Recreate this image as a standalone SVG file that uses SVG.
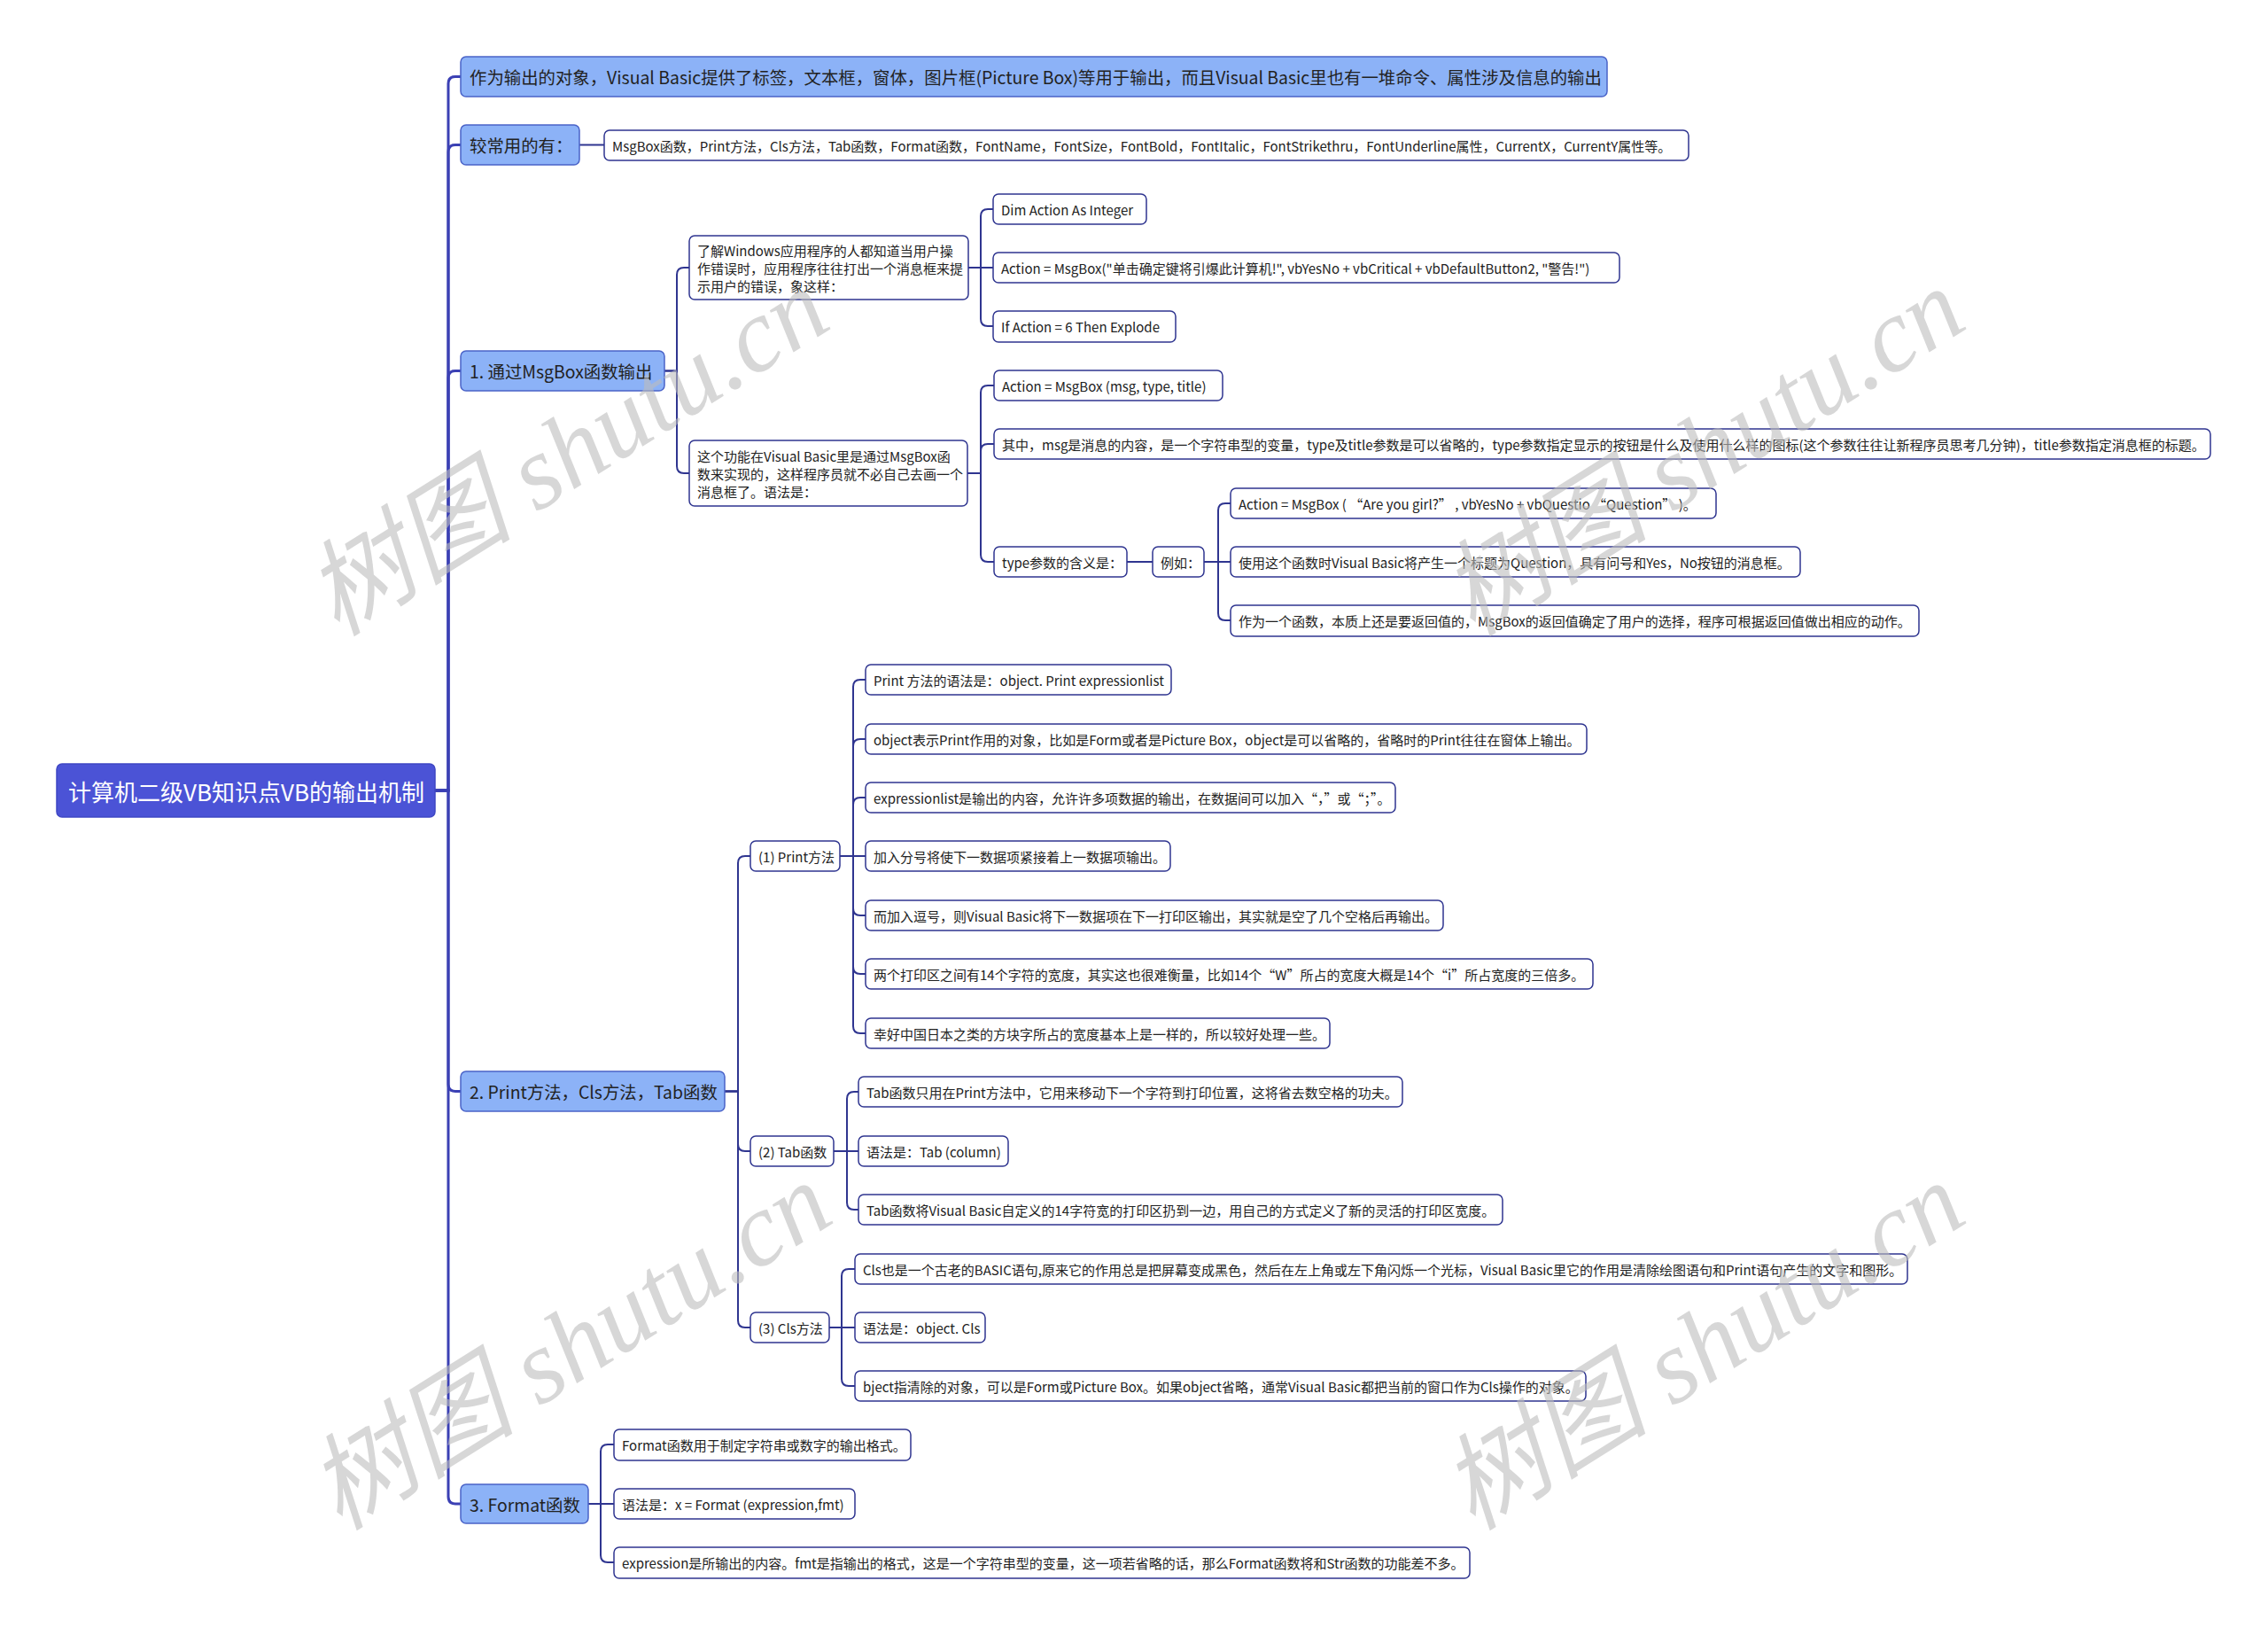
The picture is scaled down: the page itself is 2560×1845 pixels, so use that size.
<svg xmlns="http://www.w3.org/2000/svg" width="2560" height="1845" viewBox="0 0 2560 1845">
<style>
text{font-family:"Noto Sans CJK SC","Noto Sans",sans-serif;fill:#222;dominant-baseline:central}
.root rect{fill:#4B53D6;stroke:#3F47C4;stroke-width:1.5}
.root text{fill:#fff;font-size:26px}
.l1 rect{fill:#8CB2F7;stroke:#4A63C8;stroke-width:1.5}
.l1 text{font-size:19.4px}
.l2 rect{fill:#fff;stroke:#2F3590;stroke-width:1.5}
.l2 text{font-size:15px}
.c0 path{fill:none;stroke:#3B40B4;stroke-width:3}
.c1 path{fill:none;stroke:#2F3590;stroke-width:2}
.wm{font-family:"Liberation Serif","Noto Sans CJK SC",serif;font-style:italic;font-size:118px;fill:#BDBDBD;opacity:0.6;dominant-baseline:alphabetic}
</style>
<rect width="2560" height="1845" fill="#fff"/>
<g id="connectors">
<g class="c0">
<path d="M491,892 H506 V94.5 Q506,86.5 514,86.5 H520"/>
<path d="M491,892 H506 V171.5 Q506,163.5 514,163.5 H520"/>
<path d="M491,892 H506 V426.5 Q506,418.5 514,418.5 H520"/>
<path d="M491,892 H506 V1223.5 Q506,1231.5 514,1231.5 H520"/>
<path d="M491,892 H506 V1689 Q506,1697 514,1697 H520"/>
</g>
<g class="c1">
<path d="M654,163.5 H682"/>
<path d="M750,418.5 H764 V310 Q764,302 772,302 H778"/>
<path d="M750,418.5 H764 V526 Q764,534 772,534 H778"/>
<path d="M1093,302 H1107 V244 Q1107,236 1115,236 H1121"/>
<path d="M1093,302 H1121"/>
<path d="M1093,302 H1107 V360 Q1107,368 1115,368 H1121"/>
<path d="M1092,534 H1107 V443 Q1107,435 1115,435 H1122"/>
<path d="M1092,534 H1107 V509 Q1107,501 1115,501 H1122"/>
<path d="M1092,534 H1107 V626 Q1107,634 1115,634 H1122"/>
<path d="M1272,634 H1301"/>
<path d="M1359,634 H1375 V576 Q1375,568 1383,568 H1389"/>
<path d="M1359,634 H1389"/>
<path d="M1359,634 H1375 V692 Q1375,700 1383,700 H1389"/>
<path d="M818,1231.5 H833 V974 Q833,966 841,966 H847"/>
<path d="M818,1231.5 H833 V1291 Q833,1299 841,1299 H847"/>
<path d="M818,1231.5 H833 V1490 Q833,1498 841,1498 H847"/>
<path d="M948,966 H963 V775 Q963,767 971,767 H977"/>
<path d="M948,966 H963 V842 Q963,834 971,834 H977"/>
<path d="M948,966 H963 V908 Q963,900 971,900 H977"/>
<path d="M948,966 H977"/>
<path d="M948,966 H963 V1025 Q963,1033 971,1033 H977"/>
<path d="M948,966 H963 V1091 Q963,1099 971,1099 H977"/>
<path d="M948,966 H963 V1158 Q963,1166 971,1166 H977"/>
<path d="M941,1299 H956 V1240 Q956,1232 964,1232 H969"/>
<path d="M941,1299 H969"/>
<path d="M941,1299 H956 V1357 Q956,1365 964,1365 H969"/>
<path d="M936,1498 H950 V1440 Q950,1432 958,1432 H965"/>
<path d="M936,1498 H965"/>
<path d="M936,1498 H950 V1556 Q950,1564 958,1564 H965"/>
<path d="M664,1697 H678 V1638 Q678,1630 686,1630 H693"/>
<path d="M664,1697 H693"/>
<path d="M664,1697 H678 V1755 Q678,1763 686,1763 H693"/>
</g>
</g>
<g id="root" class="root"><rect x="64" y="862" width="427" height="60" rx="6"/><text x="77" y="892">计算机二级VB知识点VB的输出机制</text></g>
<g id="n1" class="l1"><rect x="520" y="64" width="1294" height="45" rx="6"/><text x="530" y="86.5">作为输出的对象，Visual Basic提供了标签，文本框，窗体，图片框(Picture Box)等用于输出，而且Visual Basic里也有一堆命令、属性涉及信息的输出</text></g>
<g id="n2" class="l1"><rect x="520" y="141" width="134" height="45" rx="6"/><text x="530" y="163.5">较常用的有：</text></g>
<g id="n2a" class="l2"><rect x="682" y="147" width="1224" height="34" rx="6"/><text x="691" y="164">MsgBox函数，Print方法，Cls方法，Tab函数，Format函数，FontName，FontSize，FontBold，FontItalic，FontStrikethru，FontUnderline属性，CurrentX，CurrentY属性等。</text></g>
<g id="n3" class="l1"><rect x="520" y="396" width="230" height="45" rx="6"/><text x="530" y="418.5">1. 通过MsgBox函数输出</text></g>
<g id="n3a" class="l2"><rect x="778" y="266" width="315" height="72" rx="6"/><text x="787" y="282">了解Windows应用程序的人都知道当用户操</text><text x="787" y="302">作错误时，应用程序往往打出一个消息框来提</text><text x="787" y="322">示用户的错误，象这样：</text></g>
<g id="n3a1" class="l2"><rect x="1121" y="219" width="173" height="34" rx="6"/><text x="1130" y="236">Dim Action As Integer</text></g>
<g id="n3a2" class="l2"><rect x="1121" y="285" width="707" height="34" rx="6"/><text x="1130" y="302">Action = MsgBox("单击确定键将引爆此计算机!", vbYesNo + vbCritical + vbDefaultButton2, "警告!")</text></g>
<g id="n3a3" class="l2"><rect x="1121" y="351" width="206" height="35" rx="6"/><text x="1130" y="368">If Action = 6 Then Explode</text></g>
<g id="n3b" class="l2"><rect x="778" y="497" width="314" height="74" rx="6"/><text x="787" y="514">这个功能在Visual Basic里是通过MsgBox函</text><text x="787" y="534">数来实现的，这样程序员就不必自己去画一个</text><text x="787" y="554">消息框了。语法是：</text></g>
<g id="n3b1" class="l2"><rect x="1122" y="418" width="258" height="34" rx="6"/><text x="1131" y="435">Action = MsgBox (msg, type, title)</text></g>
<g id="n3b2" class="l2"><rect x="1122" y="484" width="1373" height="34" rx="6"/><text x="1131" y="501">其中，msg是消息的内容，是一个字符串型的变量，type及title参数是可以省略的，type参数指定显示的按钮是什么及使用什么样的图标(这个参数往往让新程序员思考几分钟)，title参数指定消息框的标题。</text></g>
<g id="n3b3" class="l2"><rect x="1122" y="617" width="150" height="34" rx="6"/><text x="1131" y="634">type参数的含义是：</text></g>
<g id="n3b3a" class="l2"><rect x="1301" y="617" width="58" height="34" rx="6"/><text x="1310" y="634">例如：</text></g>
<g id="n3b3a1" class="l2"><rect x="1389" y="551" width="548" height="34" rx="6"/><text x="1398" y="568">Action = MsgBox ( “Are you girl?” , vbYesNo + vbQuestio “Question” )。</text></g>
<g id="n3b3a2" class="l2"><rect x="1389" y="617" width="643" height="34" rx="6"/><text x="1398" y="634">使用这个函数时Visual Basic将产生一个标题为Question，具有问号和Yes，No按钮的消息框。</text></g>
<g id="n3b3a3" class="l2"><rect x="1389" y="683" width="777" height="35" rx="6"/><text x="1398" y="700">作为一个函数，本质上还是要返回值的，MsgBox的返回值确定了用户的选择，程序可根据返回值做出相应的动作。</text></g>
<g id="n4" class="l1"><rect x="520" y="1209" width="298" height="45" rx="6"/><text x="530" y="1231.5">2. Print方法，Cls方法，Tab函数</text></g>
<g id="n4p" class="l2"><rect x="847" y="949" width="101" height="34" rx="6"/><text x="856" y="966">(1) Print方法</text></g>
<g id="n4p1" class="l2"><rect x="977" y="750" width="345" height="34" rx="6"/><text x="986" y="767">Print 方法的语法是：object. Print expressionlist</text></g>
<g id="n4p2" class="l2"><rect x="977" y="817" width="814" height="34" rx="6"/><text x="986" y="834">object表示Print作用的对象，比如是Form或者是Picture Box，object是可以省略的，省略时的Print往往在窗体上输出。</text></g>
<g id="n4p3" class="l2"><rect x="977" y="883" width="598" height="34" rx="6"/><text x="986" y="900">expressionlist是输出的内容，允许许多项数据的输出，在数据间可以加入“，”或“；”。</text></g>
<g id="n4p4" class="l2"><rect x="977" y="949" width="344" height="34" rx="6"/><text x="986" y="966">加入分号将使下一数据项紧接着上一数据项输出。</text></g>
<g id="n4p5" class="l2"><rect x="977" y="1016" width="652" height="34" rx="6"/><text x="986" y="1033">而加入逗号，则Visual Basic将下一数据项在下一打印区输出，其实就是空了几个空格后再输出。</text></g>
<g id="n4p6" class="l2"><rect x="977" y="1082" width="821" height="34" rx="6"/><text x="986" y="1099">两个打印区之间有14个字符的宽度，其实这也很难衡量，比如14个“W”所占的宽度大概是14个“i”所占宽度的三倍多。</text></g>
<g id="n4p7" class="l2"><rect x="977" y="1149" width="524" height="34" rx="6"/><text x="986" y="1166">幸好中国日本之类的方块字所占的宽度基本上是一样的，所以较好处理一些。</text></g>
<g id="n4t" class="l2"><rect x="847" y="1282" width="94" height="34" rx="6"/><text x="856" y="1299">(2) Tab函数</text></g>
<g id="n4t1" class="l2"><rect x="969" y="1215" width="614" height="34" rx="6"/><text x="978" y="1232">Tab函数只用在Print方法中，它用来移动下一个字符到打印位置，这将省去数空格的功夫。</text></g>
<g id="n4t2" class="l2"><rect x="969" y="1282" width="169" height="34" rx="6"/><text x="978" y="1299">语法是：Tab (column)</text></g>
<g id="n4t3" class="l2"><rect x="969" y="1348" width="727" height="34" rx="6"/><text x="978" y="1365">Tab函数将Visual Basic自定义的14字符宽的打印区扔到一边，用自己的方式定义了新的灵活的打印区宽度。</text></g>
<g id="n4c" class="l2"><rect x="847" y="1481" width="89" height="34" rx="6"/><text x="856" y="1498">(3) Cls方法</text></g>
<g id="n4c1" class="l2"><rect x="965" y="1415" width="1188" height="34" rx="6"/><text x="974" y="1432">Cls也是一个古老的BASIC语句,原来它的作用总是把屏幕变成黑色，然后在左上角或左下角闪烁一个光标，Visual Basic里它的作用是清除绘图语句和Print语句产生的文字和图形。</text></g>
<g id="n4c2" class="l2"><rect x="965" y="1481" width="147" height="34" rx="6"/><text x="974" y="1498">语法是：object. Cls</text></g>
<g id="n4c3" class="l2"><rect x="965" y="1547" width="825" height="34" rx="6"/><text x="974" y="1564">bject指清除的对象，可以是Form或Picture Box。如果object省略，通常Visual Basic都把当前的窗口作为Cls操作的对象。</text></g>
<g id="n5" class="l1"><rect x="520" y="1675" width="144" height="44" rx="6"/><text x="530" y="1697">3. Format函数</text></g>
<g id="n5a" class="l2"><rect x="693" y="1613" width="335" height="35" rx="6"/><text x="702" y="1630">Format函数用于制定字符串或数字的输出格式。</text></g>
<g id="n5b" class="l2"><rect x="693" y="1680" width="272" height="34" rx="6"/><text x="702" y="1697">语法是：x = Format (expression,fmt)</text></g>
<g id="n5c" class="l2"><rect x="693" y="1746" width="966" height="35" rx="6"/><text x="702" y="1763">expression是所输出的内容。fmt是指输出的格式，这是一个字符串型的变量，这一项若省略的话，那么Format函数将和Str函数的功能差不多。</text></g>
<g id="watermarks">
<text class="wm" transform="translate(640,510) rotate(-32)" text-anchor="middle" y="40">树图 shutu.cn</text>
<text class="wm" transform="translate(1922,510) rotate(-32)" text-anchor="middle" y="40">树图 shutu.cn</text>
<text class="wm" transform="translate(643,1519) rotate(-32)" text-anchor="middle" y="40">树图 shutu.cn</text>
<text class="wm" transform="translate(1922,1519) rotate(-32)" text-anchor="middle" y="40">树图 shutu.cn</text>
</g>
</svg>
